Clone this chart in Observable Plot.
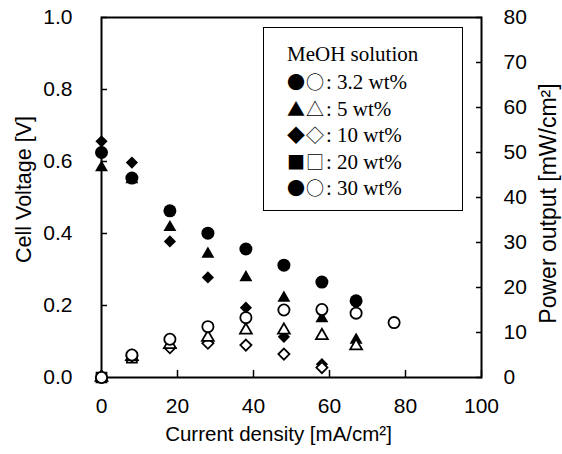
<!DOCTYPE html>
<html><head><meta charset="utf-8">
<script src="https://cdn.jsdelivr.net/npm/d3@7"></script>
<script src="https://cdn.jsdelivr.net/npm/@observablehq/plot@0.6"></script>
<style>
body{margin:0;background:#fff;}
#wrap{position:relative;width:562px;height:454px;}
#legendBox{position:absolute;left:263px;top:27px;width:200px;height:184px;border:1.5px solid #000;box-sizing:border-box;background:#fff;}
.lrow{position:absolute;left:287px;height:24px;line-height:24px;white-space:nowrap;font-family:"Liberation Serif","Times New Roman",serif;font-size:21px;color:#000;}
.glyph{font-family:"Noto Sans CJK JP","DejaVu Sans",sans-serif;font-size:18px;letter-spacing:1px;margin-right:1px;}
</style></head>
<body><div id="wrap"></div>
<script>
// Current density (mA/cm2) columns
const current = [0, 8, 18, 28, 38, 48, 58, 67, 77];
// 3.2 wt% (circles): cell voltage [V] and power output [mW/cm2]
const v32 = [0.625, 0.554, 0.463, 0.401, 0.357, 0.312, 0.265, 0.213, null];
const p32 = [0, 5.0, 8.5, 11.3, 13.3, 15.0, 15.1, 14.3, 12.2];
// 5 wt% (triangles)
const v5 = [0.583, 0.55, 0.417, 0.343, 0.278, 0.221, 0.164, 0.104, null];
const p5 = [0, 4.6, 7.3, 8.9, 10.5, 10.5, 9.3, 7.0, null];
// 10 wt% (diamonds)
const v10 = [0.656, 0.597, 0.378, 0.278, 0.194, 0.113, 0.037, null, null];
const p10 = [0, 4.8, 6.6, 7.6, 7.2, 5.2, 2.2, null, null];
// 20 wt% (squares) – only power points visible
const p20 = [0, 4.4, null, null, null, null, null, null, null];

const xTicks = [0, 20, 40, 60, 80, 100];
const vTicks = [0, 0.2, 0.4, 0.6, 0.8, 1.0];
const pTicks = [0, 10, 20, 30, 40, 50, 60, 70, 80];
const pMax = 80;

const xTitle = "Current density [mA/cm²]";
const yTitle = "Cell Voltage [V]";
const y2Title = "Power output [mW/cm²]";
const legendTitle = "MeOH solution";
const legendGlyphs = ["●○", "▲△", "◆◇", "■□", "●○"];
const legendLabels = [": 3.2 wt%", ": 5 wt%", ": 10 wt%", ": 20 wt%", ": 30 wt%"];

function rows(vals) {
  return current.map((c, i) => ({I: c, val: vals[i]})).filter(d => d.val != null);
}
const pw = arr => rows(arr).map(d => ({I: d.I, val: d.val / pMax}));

const filled = (data, symbol, r) => Plot.dot(data, {x: "I", y: "val", symbol: () => symbol, fill: "black", stroke: "none", r});
const open = (data, symbol, r) => Plot.dot(data, {x: "I", y: "val", symbol: () => symbol, fill: "white", stroke: "black", strokeWidth: 1.8, r});

const chart = Plot.plot({
  width: 562, height: 454,
  marginLeft: 101, marginRight: 81, marginTop: 17, marginBottom: 77,
  x: {domain: [0, 100]},
  y: {domain: [0, 1]},
  symbol: {type: "identity"},
  style: {fontFamily: "'Liberation Sans', Arial, sans-serif", fontSize: "21px", color: "black", background: "white", overflow: "visible"},
  marks: [
    Plot.axisX({ticks: xTicks, tickSize: -7, tickPadding: 28, label: null, strokeWidth: 1.5}),
    Plot.axisY({ticks: vTicks, tickFormat: d3.format(".1f"), tickSize: -6, tickPadding: 35, label: null, strokeWidth: 1.5}),
    Plot.axisY({anchor: "right", ticks: pTicks.map(p => p / pMax), tickFormat: d => Math.round(d * pMax), tickSize: -6, tickPadding: 28, label: null, strokeWidth: 1.5}),
    Plot.frame({stroke: "black", strokeWidth: 2}),
    filled(rows(v10), "diamond2", 5.5),
    filled(rows(v5), "triangle", 4.8),
    filled(rows(v32), "circle", 6.5),
    open(pw(p20), "square", 5.6),
    open(pw(p10), "diamond2", 5.0),
    open(pw(p5), "triangle", 4.4),
    open(pw(p32), "circle", 5.6),
    Plot.text([xTitle], {frameAnchor: "bottom", textAnchor: "middle", dx: -13, dy: 63, fontSize: 20.5}),
    Plot.text([yTitle], {frameAnchor: "left", textAnchor: "middle", rotate: -90, dx: -77, dy: -8, fontSize: 21.5}),
    Plot.text([y2Title], {frameAnchor: "right", textAnchor: "middle", rotate: -90, dx: 67, dy: 6, fontSize: 23})
  ]
});
const wrap = document.getElementById("wrap");
wrap.appendChild(chart);
const box = document.createElement("div");
box.id = "legendBox";
wrap.appendChild(box);
const centers = [53.5, 81, 107.5, 134, 160.5, 187];
const t = document.createElement("div");
t.className = "lrow"; t.style.top = (centers[0] - 12) + "px"; t.textContent = legendTitle;
wrap.appendChild(t);
legendLabels.forEach((lab, i) => {
  const r = document.createElement("div");
  r.className = "lrow"; r.style.top = (centers[i + 1] - 12) + "px";
  const g = document.createElement("span"); g.className = "glyph"; g.textContent = legendGlyphs[i];
  r.appendChild(g);
  r.appendChild(document.createTextNode(lab));
  wrap.appendChild(r);
});
</script></body></html>
